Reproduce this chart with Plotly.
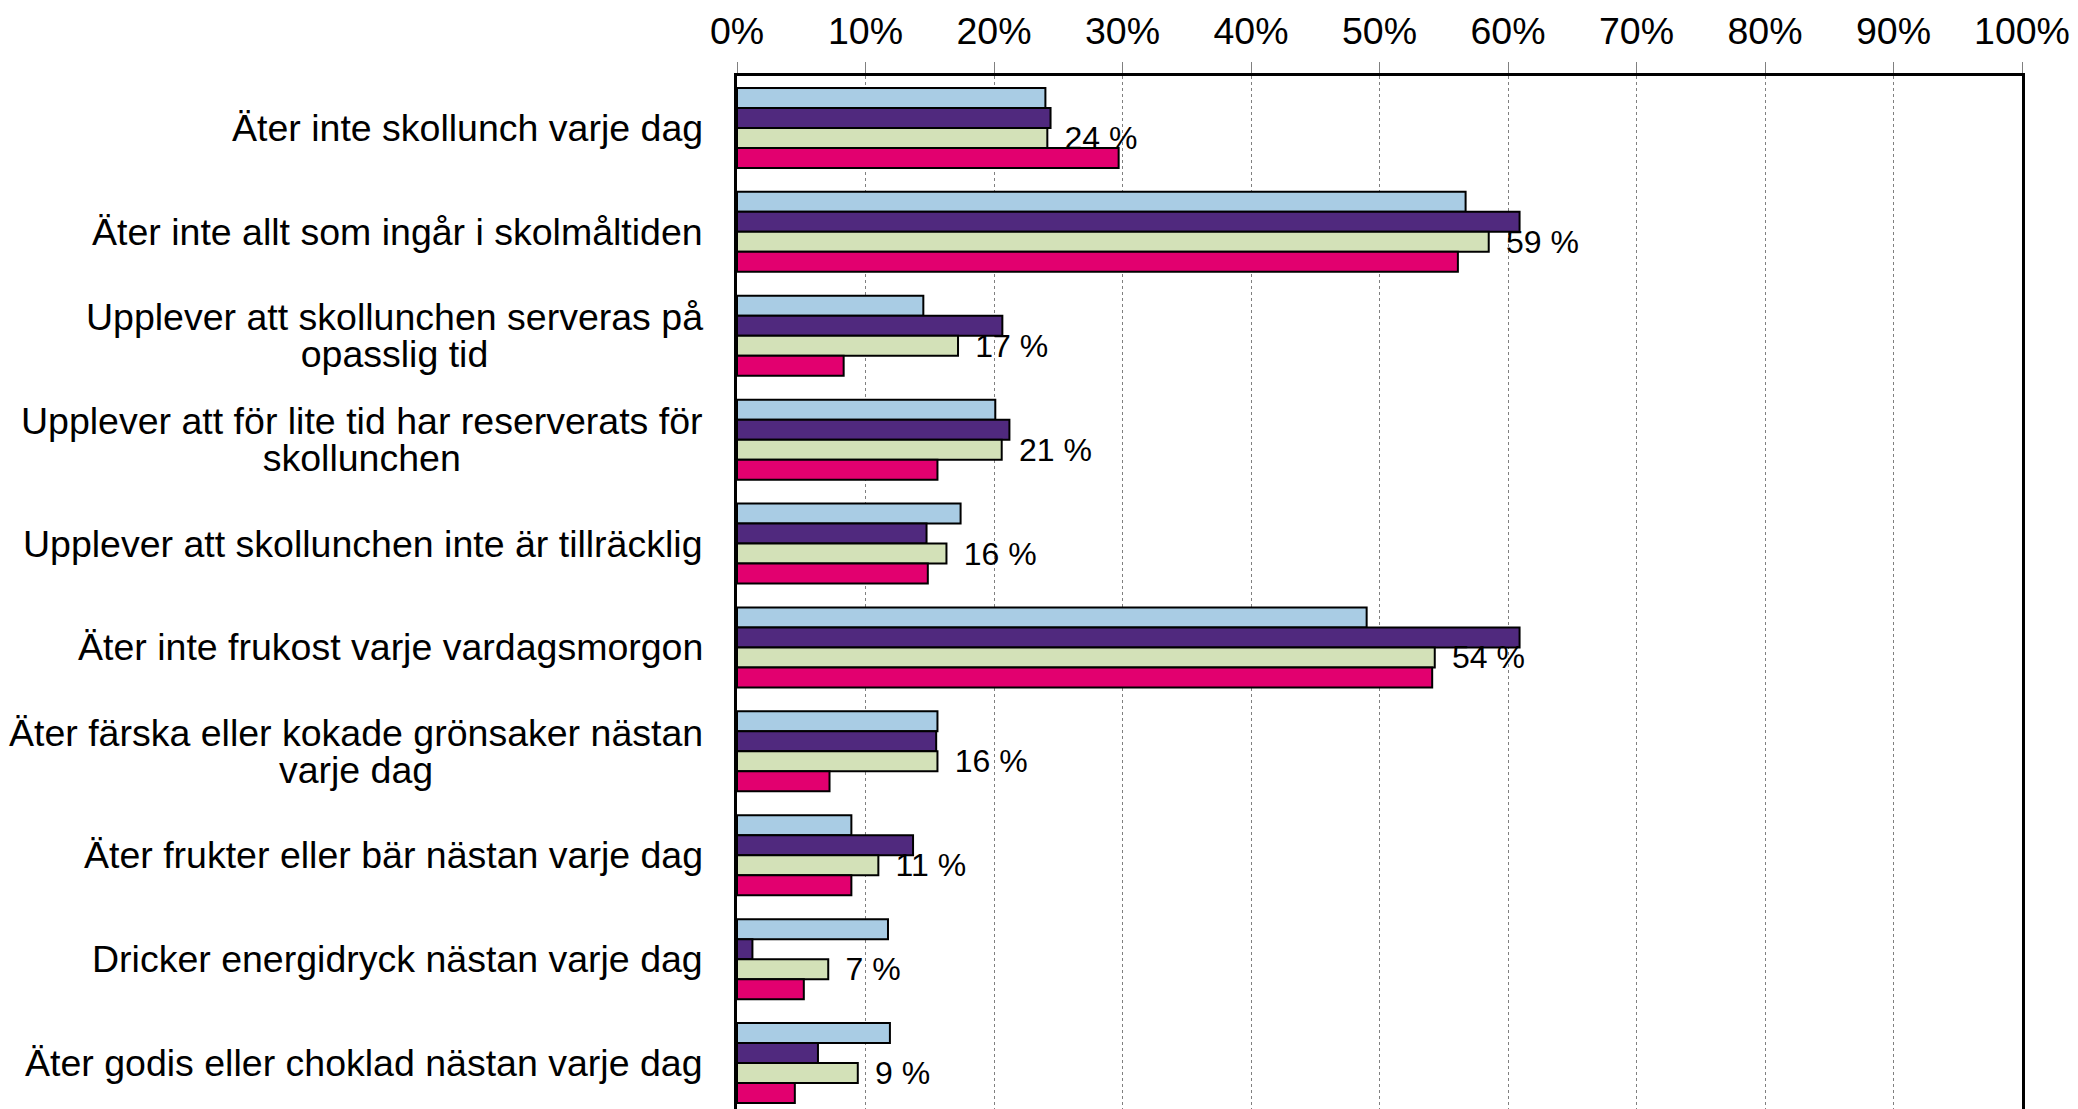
import plotly.graph_objects as go

categories = [
    "Äter inte skollunch varje dag",
    "Äter inte allt som ingår i skolmåltiden",
    "Upplever att skollunchen serveras på<br>opasslig tid",
    "Upplever att för lite tid har reserverats för<br>skollunchen",
    "Upplever att skollunchen inte är tillräcklig",
    "Äter inte frukost varje vardagsmorgon",
    "Äter färska eller kokade grönsaker nästan<br>varje dag",
    "Äter frukter eller bär nästan varje dag",
    "Dricker energidryck nästan varje dag",
    "Äter godis eller choklad nästan varje dag",
]

# four series (percent)
blue = [24.0, 56.7, 14.5, 20.1, 17.4, 49.0, 15.6, 8.9, 11.75, 11.9]
purple = [24.4, 60.9, 20.65, 21.2, 14.75, 60.9, 15.5, 13.7, 1.2, 6.3]
green = [24.15, 58.5, 17.2, 20.6, 16.3, 54.3, 15.6, 11.0, 7.1, 9.4]
pink = [29.7, 56.1, 8.3, 15.6, 14.85, 54.1, 7.2, 8.9, 5.2, 4.5]
green_labels = ["24 %", "59 %", "17 %", "21 %", "16 %", "54 %", "16 %", "11 %", "7 %", "9 %"]

x_ticks = list(range(0, 101, 10))

FONT = "Liberation Sans, Arial, sans-serif"
series = [
    (blue, "#a9cce4", None),
    (purple, "#50297e", None),
    (green, "#d3e1b8", green_labels),
    (pink, "#e2006f", None),
]

fig = go.Figure()
for vals, col, labels in series:
    fig.add_trace(go.Bar(
        y=categories,
        x=vals,
        orientation="h",
        marker=dict(color=col, line=dict(color="black", width=2)),
        text=["\u00a0\u2006" + t for t in labels] if labels else None,
        textposition="outside" if labels else "none",
        textfont=dict(family=FONT, size=32, color="black"),
        constraintext="none",
        cliponaxis=False,
        hoverinfo="skip",
    ))


def tight_lines(label):
    # bigger glyphs inside a smaller base font -> tighter line spacing
    return "<br>".join(
        '<span style="font-size:37.5px">' + part + "</span>" for part in label.split("<br>")
    )


# category labels as centred multi-line text, left of the axis
for cat in categories:
    fig.add_annotation(
        x=0, xref="paper", y=cat, yref="y",
        text=tight_lines(cat), showarrow=False,
        xanchor="right", yanchor="middle", align="center",
        xshift=-32,
        font=dict(family=FONT, size=28.5, color="black"),
    )

fig.update_layout(
    width=2062,
    height=1101,
    margin=dict(l=729, r=43, t=68, b=0),
    paper_bgcolor="white",
    plot_bgcolor="white",
    barmode="group",
    bargap=0.23,
    bargroupgap=0,
    showlegend=False,
    font=dict(family=FONT, color="black"),
)

fig.update_xaxes(
    side="top",
    range=[0, 100],
    tickvals=x_ticks,
    ticktext=[f"{v}%" for v in x_ticks],
    tickfont=dict(family=FONT, size=37.5, color="black"),
    ticks="outside",
    ticklen=11,
    tickwidth=1,
    tickcolor="#808080",
    ticklabelstandoff=3,
    ticklabeloverflow="allow",
    showgrid=True,
    gridcolor="#808080",
    gridwidth=1,
    griddash="dot",
    showline=True,
    linecolor="black",
    linewidth=3,
    zeroline=False,
)

fig.update_yaxes(
    type="category",
    range=[9.442, -0.5],
    showticklabels=False,
    ticks="",
    showgrid=False,
    showline=True,
    mirror=True,
    linecolor="black",
    linewidth=3,
    zeroline=False,
)

fig.write_html("out.html")
